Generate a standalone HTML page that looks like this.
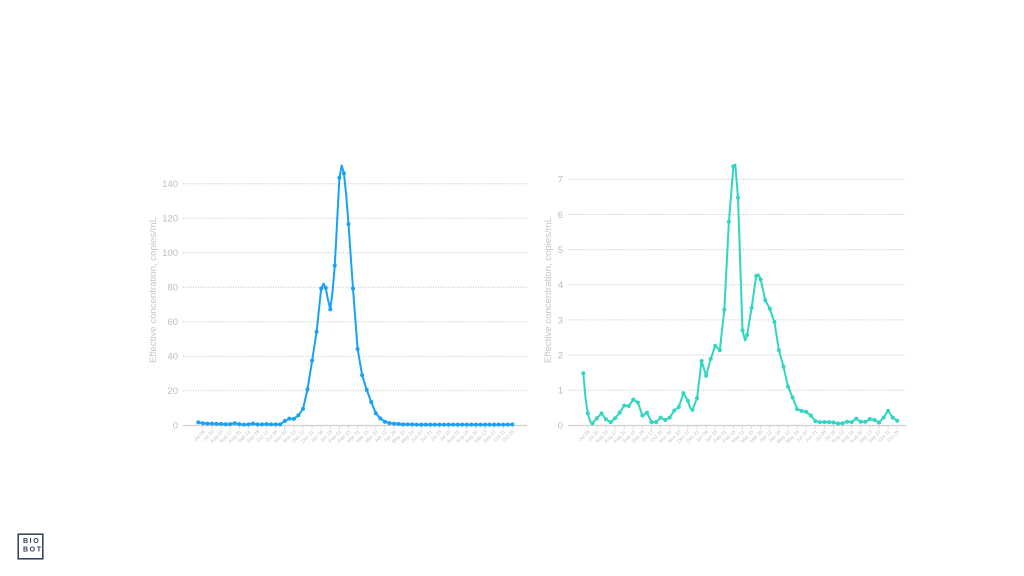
<!DOCTYPE html>
<html><head><meta charset="utf-8"><style>
html,body{margin:0;padding:0;background:#fff;}
svg{display:block;}
.yl{font-family:"Liberation Sans",sans-serif;font-size:9.5px;fill:#bcbcbc;text-anchor:end;}
.at{font-family:"Liberation Sans",sans-serif;font-size:9.6px;fill:#c6c6c6;text-anchor:middle;}
.xl{font-family:"Liberation Sans",sans-serif;font-size:5px;fill:#c4c4c4;text-anchor:end;}
.g{stroke:#c4c4c4;stroke-width:1;stroke-dasharray:1 1.5;}
.ax{stroke:#cfcfcf;stroke-width:1.2;}
.lg{font-family:"Liberation Sans",sans-serif;font-size:7px;font-weight:bold;fill:#2c3d55;letter-spacing:1.6px;}
</style></head><body>
<svg width="1024" height="576" viewBox="0 0 1024 576" xmlns="http://www.w3.org/2000/svg">
<defs>
<marker id="mb" markerWidth="6" markerHeight="6" refX="3" refY="3" markerUnits="userSpaceOnUse"><circle cx="3" cy="3" r="2" fill="#18a2f5"/></marker>
<marker id="mt" markerWidth="6" markerHeight="6" refX="3" refY="3" markerUnits="userSpaceOnUse"><circle cx="3" cy="3" r="2" fill="#2fd6c2"/></marker>
</defs>
<rect width="1024" height="576" fill="#fff"/>

<!-- LEFT CHART -->
<g>
<line class="g" x1="183" y1="183.7" x2="527" y2="183.7"/>
<line class="g" x1="183" y1="218.2" x2="527" y2="218.2"/>
<line class="g" x1="183" y1="252.8" x2="527" y2="252.8"/>
<line class="g" x1="183" y1="287.3" x2="527" y2="287.3"/>
<line class="g" x1="183" y1="321.8" x2="527" y2="321.8"/>
<line class="g" x1="183" y1="356.3" x2="527" y2="356.3"/>
<line class="g" x1="183" y1="390.8" x2="527" y2="390.8"/>
<line class="ax" x1="183" y1="425.5" x2="527" y2="425.5"/>
<text class="yl" x="178" y="187.1">140</text>
<text class="yl" x="178" y="221.6">120</text>
<text class="yl" x="178" y="256.2">100</text>
<text class="yl" x="178" y="290.7">80</text>
<text class="yl" x="178" y="325.2">60</text>
<text class="yl" x="178" y="359.7">40</text>
<text class="yl" x="178" y="394.2">20</text>
<text class="yl" x="178" y="428.7">0</text>
<text class="at" transform="translate(156,290) rotate(-90)">Effective concentration, copies/mL</text>
<path stroke="#d4d4d4" stroke-width="0.8" d="M202.9 426v3M212.0 426v3M221.1 426v3M230.2 426v3M239.3 426v3M248.4 426v3M257.5 426v3M266.6 426v3M275.7 426v3M284.8 426v3M293.9 426v3M303.0 426v3M312.1 426v3M321.2 426v3M330.3 426v3M339.4 426v3M348.5 426v3M357.6 426v3M366.7 426v3M375.8 426v3M384.9 426v3M394.0 426v3M403.1 426v3M412.2 426v3M421.3 426v3M430.4 426v3M439.5 426v3M448.6 426v3M457.7 426v3M466.8 426v3M475.9 426v3M485.0 426v3M494.1 426v3M503.2 426v3M512.3 426v3"/>
<text class="xl" transform="translate(205.2,432) rotate(-45)">Jul 06</text>
<text class="xl" transform="translate(214.3,432) rotate(-45)">Jul 20</text>
<text class="xl" transform="translate(223.4,432) rotate(-45)">Aug 03</text>
<text class="xl" transform="translate(232.5,432) rotate(-45)">Aug 17</text>
<text class="xl" transform="translate(241.6,432) rotate(-45)">Aug 31</text>
<text class="xl" transform="translate(250.7,432) rotate(-45)">Sep 14</text>
<text class="xl" transform="translate(259.8,432) rotate(-45)">Sep 28</text>
<text class="xl" transform="translate(268.9,432) rotate(-45)">Oct 12</text>
<text class="xl" transform="translate(278.0,432) rotate(-45)">Oct 26</text>
<text class="xl" transform="translate(287.1,432) rotate(-45)">Nov 09</text>
<text class="xl" transform="translate(296.2,432) rotate(-45)">Nov 23</text>
<text class="xl" transform="translate(305.3,432) rotate(-45)">Dec 07</text>
<text class="xl" transform="translate(314.4,432) rotate(-45)">Dec 21</text>
<text class="xl" transform="translate(323.5,432) rotate(-45)">Jan 04</text>
<text class="xl" transform="translate(332.6,432) rotate(-45)">Jan 18</text>
<text class="xl" transform="translate(341.7,432) rotate(-45)">Feb 01</text>
<text class="xl" transform="translate(350.8,432) rotate(-45)">Feb 15</text>
<text class="xl" transform="translate(359.9,432) rotate(-45)">Mar 01</text>
<text class="xl" transform="translate(369.0,432) rotate(-45)">Mar 15</text>
<text class="xl" transform="translate(378.1,432) rotate(-45)">Mar 29</text>
<text class="xl" transform="translate(387.2,432) rotate(-45)">Apr 12</text>
<text class="xl" transform="translate(396.3,432) rotate(-45)">Apr 26</text>
<text class="xl" transform="translate(405.4,432) rotate(-45)">May 10</text>
<text class="xl" transform="translate(414.5,432) rotate(-45)">May 24</text>
<text class="xl" transform="translate(423.6,432) rotate(-45)">Jun 07</text>
<text class="xl" transform="translate(432.7,432) rotate(-45)">Jun 21</text>
<text class="xl" transform="translate(441.8,432) rotate(-45)">Jul 05</text>
<text class="xl" transform="translate(450.9,432) rotate(-45)">Jul 19</text>
<text class="xl" transform="translate(460.0,432) rotate(-45)">Aug 02</text>
<text class="xl" transform="translate(469.1,432) rotate(-45)">Aug 16</text>
<text class="xl" transform="translate(478.2,432) rotate(-45)">Aug 30</text>
<text class="xl" transform="translate(487.3,432) rotate(-45)">Sep 13</text>
<text class="xl" transform="translate(496.4,432) rotate(-45)">Sep 27</text>
<text class="xl" transform="translate(505.5,432) rotate(-45)">Oct 11</text>
<text class="xl" transform="translate(514.6,432) rotate(-45)">Oct 25</text>
<polyline fill="none" stroke="#18a2f5" stroke-width="2" stroke-linejoin="round" stroke-linecap="round" points="198.3,422.4 202.9,423.2 207.4,423.6 212.0,423.6 216.5,423.9 221.1,423.9 225.6,424.3 230.2,424.1 234.7,423.2 239.3,424.1 243.8,424.6 248.4,424.4 252.9,423.6 257.5,424.4 262.0,424.4 266.6,424.1 271.1,424.4 275.7,424.4 280.2,424.4 284.8,421.0 289.3,418.6 293.9,418.9 298.4,415.3 303.0,408.9 307.5,389.4 312.1,360.6 316.6,331.8 321.2,288.5 323.5,283.5 325.7,287.8 328.0,300 330.3,309.3 332.5,292 334.8,265.5 339.4,177.8 341.7,165.5 343.9,173.2 346.2,195 348.5,224.1 353.0,288.5 357.6,349.0 362.1,375.1 366.7,389.9 371.2,402.0 375.8,413.2 380.3,418.4 384.9,421.7 389.4,423.1 394.0,423.6 398.5,423.9 403.1,424.4 407.6,424.4 412.2,424.4 416.7,424.6 421.3,424.6 425.8,424.6 430.4,424.6 434.9,424.6 439.5,424.6 444.0,424.6 448.6,424.6 453.1,424.6 457.7,424.6 462.2,424.6 466.8,424.6 471.3,424.6 475.9,424.6 480.4,424.6 485.0,424.6 489.5,424.6 494.1,424.6 498.6,424.6 503.2,424.6 507.7,424.6 512.3,424.4"/>
<polyline fill="none" stroke="none" marker-start="url(#mb)" marker-mid="url(#mb)" marker-end="url(#mb)" points="198.3,422.4 202.9,423.2 207.4,423.6 212.0,423.6 216.5,423.9 221.1,423.9 225.6,424.3 230.2,424.1 234.7,423.2 239.3,424.1 243.8,424.6 248.4,424.4 252.9,423.6 257.5,424.4 262.0,424.4 266.6,424.1 271.1,424.4 275.7,424.4 280.2,424.4 284.8,421.0 289.3,418.6 293.9,418.9 298.4,415.3 303.0,408.9 307.5,389.4 312.1,360.6 316.6,331.8 321.2,288.5 325.7,287.8 330.3,309.3 334.8,265.5 339.4,177.8 343.9,173.2 348.5,224.1 353.0,288.5 357.6,349.0 362.1,375.1 366.7,389.9 371.2,402.0 375.8,413.2 380.3,418.4 384.9,421.7 389.4,423.1 394.0,423.6 398.5,423.9 403.1,424.4 407.6,424.4 412.2,424.4 416.7,424.6 421.3,424.6 425.8,424.6 430.4,424.6 434.9,424.6 439.5,424.6 444.0,424.6 448.6,424.6 453.1,424.6 457.7,424.6 462.2,424.6 466.8,424.6 471.3,424.6 475.9,424.6 480.4,424.6 485.0,424.6 489.5,424.6 494.1,424.6 498.6,424.6 503.2,424.6 507.7,424.6 512.3,424.4"/>
</g>

<!-- RIGHT CHART -->
<g>
<line class="g" x1="568" y1="179.3" x2="906" y2="179.3"/>
<line class="g" x1="568" y1="214.5" x2="906" y2="214.5"/>
<line class="g" x1="568" y1="249.6" x2="906" y2="249.6"/>
<line class="g" x1="568" y1="284.7" x2="906" y2="284.7"/>
<line class="g" x1="568" y1="319.9" x2="906" y2="319.9"/>
<line class="g" x1="568" y1="355.0" x2="906" y2="355.0"/>
<line class="g" x1="568" y1="390.2" x2="906" y2="390.2"/>
<line class="ax" x1="568" y1="425.5" x2="906" y2="425.5"/>
<text class="yl" x="563" y="182.7">7</text>
<text class="yl" x="563" y="217.9">6</text>
<text class="yl" x="563" y="253.0">5</text>
<text class="yl" x="563" y="288.1">4</text>
<text class="yl" x="563" y="323.3">3</text>
<text class="yl" x="563" y="358.4">2</text>
<text class="yl" x="563" y="393.6">1</text>
<text class="yl" x="563" y="428.7">0</text>
<text class="at" transform="translate(551,290) rotate(-90)">Effective concentration, copies/mL</text>
<path stroke="#d4d4d4" stroke-width="0.8" d="M587.8 426v3M596.9 426v3M606.0 426v3M615.1 426v3M624.2 426v3M633.3 426v3M642.4 426v3M651.5 426v3M660.6 426v3M669.7 426v3M678.8 426v3M687.9 426v3M697.0 426v3M706.1 426v3M715.2 426v3M724.3 426v3M733.4 426v3M742.5 426v3M751.6 426v3M760.7 426v3M769.8 426v3M778.9 426v3M788.0 426v3M797.1 426v3M806.2 426v3M815.3 426v3M824.4 426v3M833.5 426v3M842.6 426v3M851.7 426v3M860.8 426v3M869.9 426v3M879.0 426v3M888.1 426v3M897.2 426v3"/>
<text class="xl" transform="translate(590.1,432) rotate(-45)">Jul 06</text>
<text class="xl" transform="translate(599.2,432) rotate(-45)">Jul 20</text>
<text class="xl" transform="translate(608.3,432) rotate(-45)">Aug 03</text>
<text class="xl" transform="translate(617.4,432) rotate(-45)">Aug 17</text>
<text class="xl" transform="translate(626.5,432) rotate(-45)">Aug 31</text>
<text class="xl" transform="translate(635.6,432) rotate(-45)">Sep 14</text>
<text class="xl" transform="translate(644.7,432) rotate(-45)">Sep 28</text>
<text class="xl" transform="translate(653.8,432) rotate(-45)">Oct 12</text>
<text class="xl" transform="translate(662.9,432) rotate(-45)">Oct 26</text>
<text class="xl" transform="translate(672.0,432) rotate(-45)">Nov 09</text>
<text class="xl" transform="translate(681.1,432) rotate(-45)">Nov 23</text>
<text class="xl" transform="translate(690.2,432) rotate(-45)">Dec 07</text>
<text class="xl" transform="translate(699.3,432) rotate(-45)">Dec 21</text>
<text class="xl" transform="translate(708.4,432) rotate(-45)">Jan 04</text>
<text class="xl" transform="translate(717.5,432) rotate(-45)">Jan 18</text>
<text class="xl" transform="translate(726.6,432) rotate(-45)">Feb 01</text>
<text class="xl" transform="translate(735.7,432) rotate(-45)">Feb 15</text>
<text class="xl" transform="translate(744.8,432) rotate(-45)">Mar 01</text>
<text class="xl" transform="translate(753.9,432) rotate(-45)">Mar 15</text>
<text class="xl" transform="translate(763.0,432) rotate(-45)">Mar 29</text>
<text class="xl" transform="translate(772.1,432) rotate(-45)">Apr 12</text>
<text class="xl" transform="translate(781.2,432) rotate(-45)">Apr 26</text>
<text class="xl" transform="translate(790.3,432) rotate(-45)">May 10</text>
<text class="xl" transform="translate(799.4,432) rotate(-45)">May 24</text>
<text class="xl" transform="translate(808.5,432) rotate(-45)">Jun 07</text>
<text class="xl" transform="translate(817.6,432) rotate(-45)">Jun 21</text>
<text class="xl" transform="translate(826.7,432) rotate(-45)">Jul 05</text>
<text class="xl" transform="translate(835.8,432) rotate(-45)">Jul 19</text>
<text class="xl" transform="translate(844.9,432) rotate(-45)">Aug 02</text>
<text class="xl" transform="translate(854.0,432) rotate(-45)">Aug 16</text>
<text class="xl" transform="translate(863.1,432) rotate(-45)">Aug 30</text>
<text class="xl" transform="translate(872.2,432) rotate(-45)">Sep 13</text>
<text class="xl" transform="translate(881.3,432) rotate(-45)">Sep 27</text>
<text class="xl" transform="translate(890.4,432) rotate(-45)">Oct 11</text>
<text class="xl" transform="translate(899.5,432) rotate(-45)">Oct 25</text>
<polyline fill="none" stroke="#2fd6c2" stroke-width="2" stroke-linejoin="round" stroke-linecap="round" points="583.3,373.3 585.5,398 587.8,413.4 590.1,421.5 592.4,423.2 596.9,418.3 601.5,413.4 606.0,419.3 610.6,422.1 615.1,418.3 619.7,412.6 624.2,405.6 628.8,406.0 633.3,399.6 637.9,402.5 642.4,415.5 647.0,412.6 651.5,422.1 656.1,422.1 660.6,417.6 665.2,420.0 669.7,417.6 674.3,410.5 678.8,407.0 683.4,393.3 687.9,400.7 690.2,408 692.5,409.8 697.0,398.2 701.6,361.0 706.1,375.7 710.7,358.9 715.2,345.9 719.8,350.1 724.3,309.7 728.9,221.8 733.4,166.3 735.3,164.5 738.0,197.6 742.5,330.4 745.0,340.5 747.1,335.0 751.6,307.9 756.2,276.0 758.3,274.2 760.7,279.5 765.3,300.2 769.8,308.6 774.4,322.0 778.9,350.1 783.5,366.6 788.0,386.6 792.6,397.5 797.1,409.1 801.7,410.9 806.2,411.9 810.8,415.5 815.3,421.1 819.9,422.1 824.4,422.1 829.0,422.1 833.5,422.5 838.1,423.5 842.6,423.2 847.2,421.8 851.7,422.1 856.3,418.6 860.8,421.8 865.4,421.8 869.9,419.0 874.5,420.0 879.0,422.5 883.6,417.6 888.1,410.9 892.7,417.6 897.2,420.7"/>
<polyline fill="none" stroke="none" marker-start="url(#mt)" marker-mid="url(#mt)" marker-end="url(#mt)" points="583.3,373.3 587.8,413.4 592.4,423.2 596.9,418.3 601.5,413.4 606.0,419.3 610.6,422.1 615.1,418.3 619.7,412.6 624.2,405.6 628.8,406.0 633.3,399.6 637.9,402.5 642.4,415.5 647.0,412.6 651.5,422.1 656.1,422.1 660.6,417.6 665.2,420.0 669.7,417.6 674.3,410.5 678.8,407.0 683.4,393.3 687.9,400.7 692.5,409.8 697.0,398.2 701.6,361.0 706.1,375.7 710.7,358.9 715.2,345.9 719.8,350.1 724.3,309.7 728.9,221.8 733.4,166.3 738.0,197.6 742.5,330.4 747.1,335.0 751.6,307.9 756.2,276.0 760.7,279.5 765.3,300.2 769.8,308.6 774.4,322.0 778.9,350.1 783.5,366.6 788.0,386.6 792.6,397.5 797.1,409.1 801.7,410.9 806.2,411.9 810.8,415.5 815.3,421.1 819.9,422.1 824.4,422.1 829.0,422.1 833.5,422.5 838.1,423.5 842.6,423.2 847.2,421.8 851.7,422.1 856.3,418.6 860.8,421.8 865.4,421.8 869.9,419.0 874.5,420.0 879.0,422.5 883.6,417.6 888.1,410.9 892.7,417.6 897.2,420.7"/>
</g>

<!-- LOGO -->
<rect x="18.2" y="534.2" width="24.6" height="24.6" fill="none" stroke="#2c3d55" stroke-width="1.5"/>
<text class="lg" x="23" y="543.2">BIO</text>
<text class="lg" x="23" y="551.4">BOT</text>
</svg>
</body></html>
